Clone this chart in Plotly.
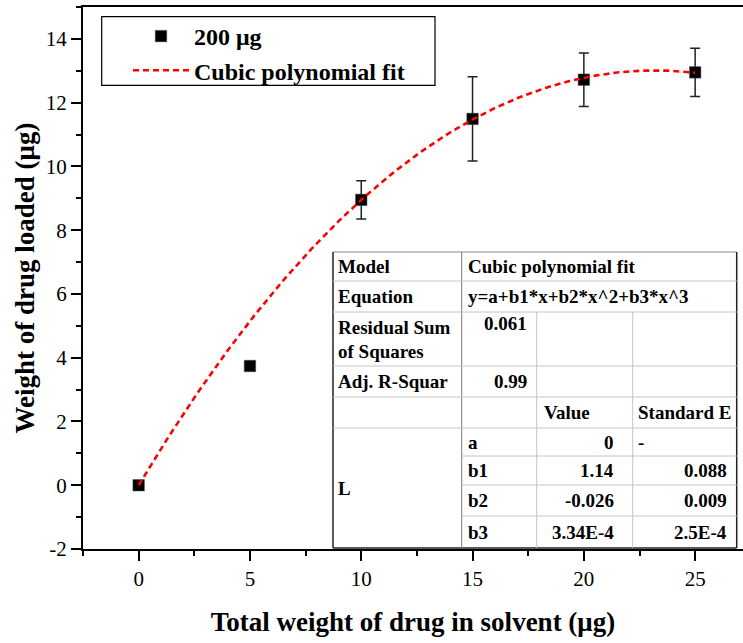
import plotly.graph_objects as go
import numpy as np

# ---- data ----
drug_total = [0, 5, 10, 15, 20, 25]                 # total drug in solvent (µg)
drug_loaded = [0, 3.74, 8.95, 11.49, 12.72, 12.95]  # drug loaded (µg)
loaded_err = [0, 0, 0.6, 1.32, 0.84, 0.76]          # error bar half-heights
err_visible = [False, False, True, True, True, True]

# cubic fit y = a + b1*x + b2*x^2 + b3*x^3 (curve)
fit_coef = [0.0, 1.1686, -0.02824, 8.8e-5]
fit_x_min, fit_x_max = 0, 25

# fit summary table text
tbl_model = "Cubic polynomial fit"
tbl_equation = "y=a+b1*x+b2*x^2+b3*x^3"
tbl_rss = "0.061"
tbl_adj_r2 = "0.99"
param_names = ["a", "b1", "b2", "b3"]
param_values = ["0", "1.14", "-0.026", "3.34E-4"]
param_errors = ["-", "0.088", "0.009", "2.5E-4"]

x_ticks = [0, 5, 10, 15, 20, 25]
y_ticks = [-2, 0, 2, 4, 6, 8, 10, 12, 14]
y_tick_text = ["-2", "0", "2", "4", "6", "8", "10", "12", "14"]

# ---- layout geometry (pixels) ----
W, H = 743, 643
ML, MR, MT, MB = 83, 0, 7, 94
PW, PH = W - ML - MR, H - MT - MB
X_RANGE = [-2.5, -2.5 + PW / 22.26]
Y_RANGE = [-2, 15]

FONT = "Liberation Serif"


def px(xp):
    return (xp - ML) / PW


def py(yp):
    return (H - MB - yp) / PH


fig = go.Figure()

# measured points with error bars
err_arr = [e if v else 0 for e, v in zip(loaded_err, err_visible)]
fig.add_trace(go.Scatter(
    x=drug_total, y=drug_loaded, mode="markers", name="<b>200 μg</b>",
    marker=dict(symbol="square", size=11.5, color="black",
                line=dict(color="#555", width=0.5)),
    error_y=dict(type="data", array=err_arr, visible=True,
                 color="#222", thickness=1.5, width=5),
))

# cubic polynomial fit curve
xf = np.linspace(fit_x_min, fit_x_max, 300)
yf = np.polyval(fit_coef[::-1], xf)
fig.add_trace(go.Scatter(
    x=xf, y=yf, mode="lines", name="<b>Cubic polynomial fit</b>",
    line=dict(color="#ff0000", width=2.6, dash="6px,4px"),
))

# ---- fit summary table ----
cols = [333, 461.7, 536.7, 632.7, 736.7]
rows = [252, 281, 312, 366, 397, 428, 456, 485, 516, 548]
DARK, LIGHT = "#222", "#c4c4c4"

segments = []
# outer frame
segments.append((cols[0], rows[0], cols[4], rows[0], "#888", 1))
segments.append((cols[0], rows[0], cols[0], rows[-1], DARK, 1.5))
segments.append((cols[4], rows[0], cols[4], rows[-1], DARK, 1.5))
segments.append((cols[0], rows[-1], cols[4], rows[-1], DARK, 1.5))
# first column divider
segments.append((cols[1], rows[0], cols[1], rows[-1], "#777", 1))
# value columns dividers
segments.append((cols[2], rows[2], cols[2], rows[-1], LIGHT, 1))
segments.append((cols[3], rows[2], cols[3], rows[-1], LIGHT, 1))
# full-width row dividers
for r in rows[1:6]:
    segments.append((cols[0], r, cols[4], r, LIGHT, 1))
# parameter rows
for r in rows[6:9]:
    segments.append((cols[1], r, cols[4], r, LIGHT, 1))

shapes = []
shapes.append(dict(type="rect", xref="paper", yref="paper",
                   x0=px(cols[0]), x1=px(cols[4]), y0=py(rows[-1]), y1=py(rows[0]),
                   fillcolor="white", line=dict(width=0), layer="below"))
for x0, y0, x1, y1, c, w in segments:
    shapes.append(dict(type="line", xref="paper", yref="paper",
                       x0=px(x0), y0=py(y0), x1=px(x1), y1=py(y1),
                       line=dict(color=c, width=w)))

# legend frame
shapes.append(dict(type="rect", xref="paper", yref="paper",
                   x0=px(101.7), x1=px(435), y0=py(85.3), y1=py(16.7),
                   fillcolor="white", line=dict(color="black", width=1.2),
                   layer="below"))

annotations = []


def cell_text(text, xp, yp, anchor="left"):
    annotations.append(dict(
        text=f"<b>{text}</b>", xref="paper", yref="paper",
        x=px(xp), y=py(yp), xanchor=anchor, yanchor="middle",
        showarrow=False, font=dict(family=FONT, size=19, color="black")))


cell_text("Model", 336, 266.5)
cell_text(tbl_model, 466, 266.5)
cell_text("Equation", 336, 296.5)
cell_text(tbl_equation, 466, 296.5)
cell_text("Residual Sum", 336, 327)
cell_text("of Squares", 336, 351)
cell_text(tbl_rss, 529, 323, "right")
cell_text("Adj. R-Squar", 336, 381.5)
cell_text(tbl_adj_r2, 529, 381.5, "right")
cell_text("Value", 542, 412.5)
cell_text("Standard E", 636, 412.5)
cell_text("L", 336, 489)
for i, (n, v, e) in enumerate(zip(param_names, param_values, param_errors)):
    yc = (rows[5 + i] + rows[6 + i]) / 2
    cell_text(n, 466, yc)
    cell_text(v, 616, yc, "right")
    if e == "-":
        cell_text(e, 636, yc)
    else:
        cell_text(e, 729, yc, "right")

axis_common = dict(
    showline=True, linecolor="black", linewidth=2,
    ticks="outside", ticklen=10, tickwidth=2, tickcolor="black",
    showgrid=False, zeroline=False,
    tickfont=dict(family=FONT, size=21, color="black"),
)

fig.update_layout(
    width=W, height=H,
    margin=dict(l=ML, r=MR, t=MT, b=MB),
    plot_bgcolor="white", paper_bgcolor="white",
    xaxis=dict(range=X_RANGE, tickvals=x_ticks, mirror=True,
               minor=dict(dtick=2.5, tick0=0, ticks="outside", ticklen=5,
                          tickwidth=2, tickcolor="black"),
               title=dict(text="<b>Total weight of drug in solvent (μg)</b>",
                          font=dict(family=FONT, size=27, color="black"),
                          standoff=22),
               **axis_common),
    yaxis=dict(range=Y_RANGE, tickvals=y_ticks, ticktext=y_tick_text,
               minor=dict(dtick=1, tick0=0, ticks="outside", ticklen=5,
                          tickwidth=2, tickcolor="black"),
               title=dict(text="<b>Weight of drug loaded (μg)</b>",
                          font=dict(family=FONT, size=27, color="black"),
                          standoff=3),
               **axis_common),
    legend=dict(x=px(128), y=py(14), xanchor="left", yanchor="top",
                bgcolor="rgba(0,0,0,0)", borderwidth=0,
                font=dict(family=FONT, size=24, color="black"),
                itemwidth=56, tracegroupgap=0),
    shapes=shapes,
    annotations=annotations,
    showlegend=True,
)

fig.write_html("out.html")
